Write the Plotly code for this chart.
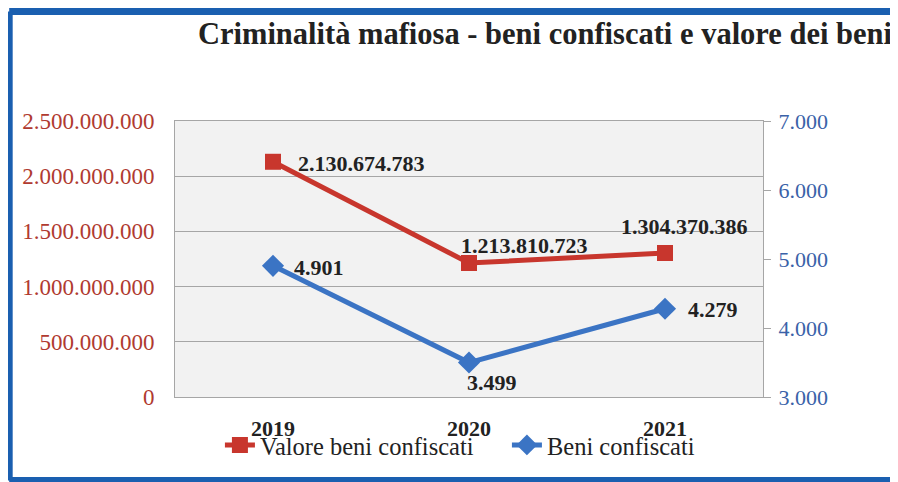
import plotly.graph_objects as go

years = ["2019", "2020", "2021"]
valore_beni = [2130674783, 1213810723, 1304370386]
beni_confiscati = [4901, 3499, 4279]

left_ticks = [0, 500000000, 1000000000, 1500000000, 2000000000, 2500000000]
right_ticks = [3000, 4000, 5000, 6000, 7000]

RED = "#c8362d"
BLUE = "#3b74c4"
FRAME = "#1a5fb0"
SERIF = "Liberation Serif"


def it_num(v):
    return f"{v:,}".replace(",", ".")


fig = go.Figure()

# valore (left axis)
fig.add_trace(go.Scatter(x=years, y=valore_beni, mode="lines+markers",
                         name="Valore beni confiscati",
                         line=dict(color=RED, width=5),
                         marker=dict(symbol="square", size=16, color=RED)))

# numero beni (right axis)
fig.add_trace(go.Scatter(x=years, y=beni_confiscati, mode="lines+markers",
                         name="Beni confiscati", yaxis="y2",
                         line=dict(color=BLUE, width=5),
                         marker=dict(symbol="diamond", size=17, color=BLUE)))

# data labels (x given as category index)
red_shift = [(88, -2), (55, 18), (19, 27)]
blue_shift = [(46, -2), (23, -20), (48, -1)]
annotations = []
for i, (v, (dx, dy)) in enumerate(zip(valore_beni, red_shift)):
    annotations.append(dict(x=i, y=v, xref="x", yref="y", text=f"<b>{it_num(v)}</b>",
                            showarrow=False, xshift=dx, yshift=dy,
                            font=dict(family=SERIF, size=22, color="#222")))
for i, (v, (dx, dy)) in enumerate(zip(beni_confiscati, blue_shift)):
    annotations.append(dict(x=i, y=v, xref="x", yref="y2", text=f"<b>{it_num(v)}</b>",
                            showarrow=False, xshift=dx, yshift=dy,
                            font=dict(family=SERIF, size=22, color="#222")))

# outer blue frame (open on the right side, as in the source image)
frame = [
    dict(type="line", xref="paper", yref="paper", x0=-0.282, x1=1.5, y0=1.3967, y1=1.3967),
    dict(type="line", xref="paper", yref="paper", x0=-0.282, x1=1.5, y0=-0.3025, y1=-0.3025),
    dict(type="line", xref="paper", yref="paper", x0=-0.282, x1=-0.282, y0=-0.3025, y1=1.3967),
]
for s in frame:
    s["line"] = dict(color=FRAME, width=7)
    s["layer"] = "above"

fig.update_layout(
    width=898, height=482,
    margin=dict(l=167, r=143, t=113, b=93),
    paper_bgcolor="white",
    plot_bgcolor="#f2f2f2",
    separators=",.",
    font=dict(family=SERIF, color="#222"),
    title=dict(text="<b>Criminalità mafiosa - beni confiscati e valore dei beni</b>",
               x=0.598, xanchor="center", y=0.948, yanchor="middle",
               font=dict(family=SERIF, size=30.5, color="#222")),
    xaxis=dict(type="category", range=[-0.5, 2.5], showgrid=False,
               showline=True, linecolor="#a6a6a6", linewidth=1, mirror=True,
               ticks="", tickfont=dict(family=SERIF, size=22, color="#222"),
               ticklabelstandoff=12,
               tickvals=years, ticktext=[f"<b>{y}</b>" for y in years]),
    yaxis=dict(range=[0, 2500000000], tickvals=left_ticks,
               ticktext=[it_num(v) for v in left_ticks],
               showgrid=True, gridcolor="#a6a6a6", gridwidth=1,
               showline=True, linecolor="#a6a6a6", linewidth=1,
               zeroline=False, ticks="",
               tickfont=dict(family=SERIF, size=23, color="#b03a30"),
               ticklabelstandoff=15),
    yaxis2=dict(range=[3000, 7000], tickvals=right_ticks,
                ticktext=[it_num(v) for v in right_ticks],
                overlaying="y", side="right", showgrid=False,
                showline=True, linecolor="#a6a6a6", linewidth=1,
                zeroline=False, ticks="outside", ticklen=7, tickcolor="#a6a6a6",
                tickfont=dict(family=SERIF, size=22, color="#3a62a8"),
                ticklabelstandoff=3),
    legend=dict(orientation="h", x=0.0764, xanchor="left", y=-0.174, yanchor="middle",
                bgcolor="rgba(0,0,0,0)", font=dict(family=SERIF, size=24.5, color="#222"),
                entrywidth=242, tracegroupgap=0),
    showlegend=True,
    annotations=annotations,
    shapes=frame,
)

fig.write_html("out.html")
